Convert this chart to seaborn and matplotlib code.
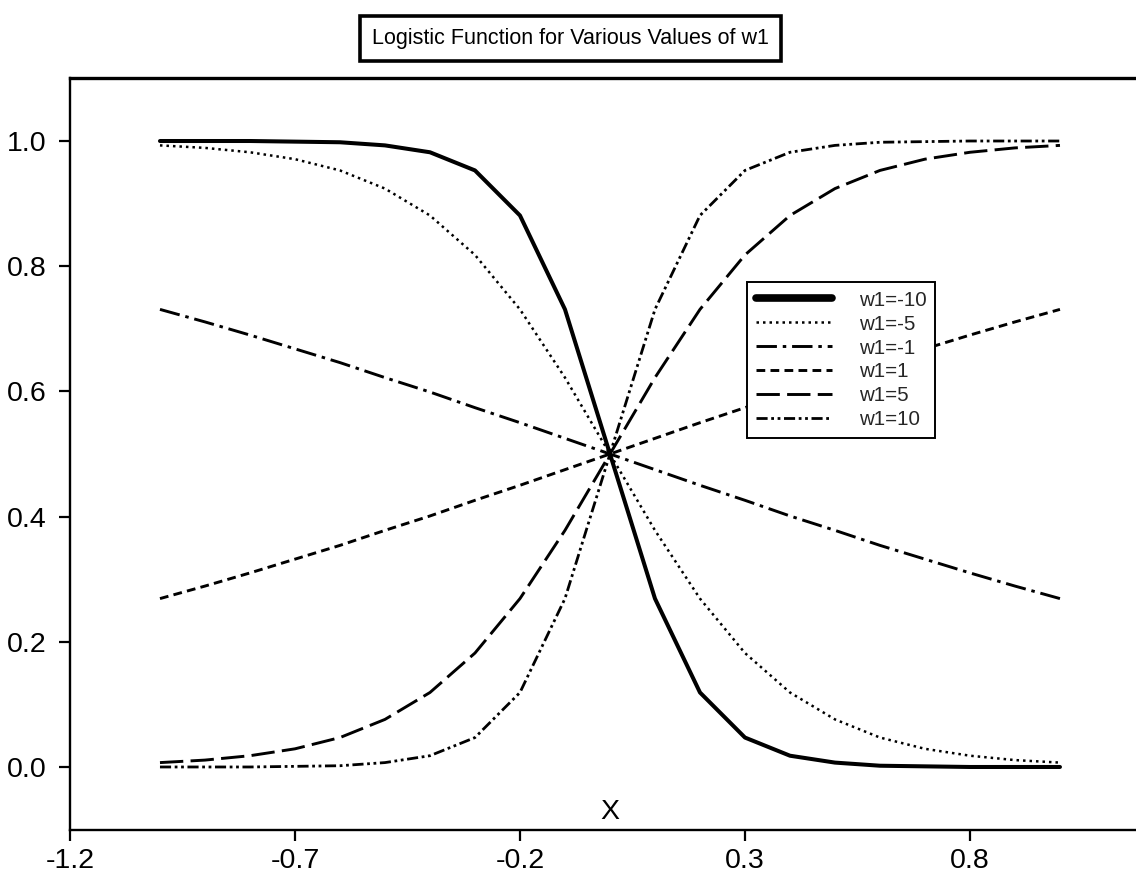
import matplotlib
matplotlib.use("Agg")
import matplotlib.pyplot as plt
import seaborn as sns
import pandas as pd

# ---- data ----
x_vals = [-1.0, -0.9, -0.8, -0.7, -0.6, -0.5, -0.4, -0.3, -0.2, -0.1, 0.0,
          0.1, 0.2, 0.3, 0.4, 0.5, 0.6, 0.7, 0.8, 0.9, 1.0]

y_w1_m10 = [1.000, 1.000, 1.000, 0.999, 0.998, 0.993, 0.982, 0.953, 0.881, 0.731, 0.500,
            0.269, 0.119, 0.047, 0.018, 0.007, 0.002, 0.001, 0.000, 0.000, 0.000]
y_w1_m5 = [0.993, 0.989, 0.982, 0.971, 0.953, 0.924, 0.881, 0.818, 0.731, 0.622, 0.500,
           0.378, 0.269, 0.182, 0.119, 0.076, 0.047, 0.029, 0.018, 0.011, 0.007]
y_w1_m1 = [0.731, 0.711, 0.690, 0.668, 0.646, 0.622, 0.599, 0.574, 0.550, 0.525, 0.500,
           0.475, 0.450, 0.426, 0.401, 0.378, 0.354, 0.332, 0.310, 0.289, 0.269]
y_w1_p1 = [0.269, 0.289, 0.310, 0.332, 0.354, 0.378, 0.401, 0.426, 0.450, 0.475, 0.500,
           0.525, 0.550, 0.574, 0.599, 0.622, 0.646, 0.668, 0.690, 0.711, 0.731]
y_w1_p5 = [0.007, 0.011, 0.018, 0.029, 0.047, 0.076, 0.119, 0.182, 0.269, 0.378, 0.500,
           0.622, 0.731, 0.818, 0.881, 0.924, 0.953, 0.971, 0.982, 0.989, 0.993]
y_w1_p10 = [0.000, 0.000, 0.000, 0.001, 0.002, 0.007, 0.018, 0.047, 0.119, 0.269, 0.500,
            0.731, 0.881, 0.953, 0.982, 0.993, 0.998, 0.999, 1.000, 1.000, 1.000]

series_labels = ["w1=-10", "w1=-5", "w1=-1", "w1=1", "w1=5", "w1=10"]
series_values = [y_w1_m10, y_w1_m5, y_w1_m1, y_w1_p1, y_w1_p5, y_w1_p10]

x_ticks = [-1.2, -0.7, -0.2, 0.3, 0.8]
y_ticks = [0.0, 0.2, 0.4, 0.6, 0.8, 1.0]

# ---- style ----
sns.set_style("white")
plt.rcParams["font.family"] = ["Liberation Sans", "DejaVu Sans"]

styles = [
    dict(linestyle="-", linewidth=2.9),
    dict(linestyle=(0, (1, 1.6)), linewidth=1.8),
    dict(linestyle=(0, (7, 2, 1.2, 2)), linewidth=2.1),
    dict(linestyle=(0, (3, 1.8)), linewidth=2.1),
    dict(linestyle=(0, (8, 2.5)), linewidth=2.1),
    dict(linestyle=(0, (4, 1.3, 1, 1.3, 1, 1.3)), linewidth=2.0),
]

fig = plt.figure(figsize=(11.36, 8.80), dpi=100)
ax = fig.add_axes([0.0616, 0.0573, 0.9507, 0.8536])

df = pd.DataFrame({"x": x_vals})
for lab, vals, st in zip(series_labels, series_values, styles):
    df[lab] = vals
    sns.lineplot(data=df, x="x", y=lab, ax=ax, color="black", label=lab,
                 **st)

ax.set_xlim(-1.2, 1.2)
ax.set_ylim(-0.1, 1.1)
ax.set_xticks(x_ticks)
ax.set_yticks(y_ticks)
ax.set_xticklabels([f"{t:.1f}" for t in x_ticks])
ax.set_yticklabels([f"{t:.1f}" for t in y_ticks])
ax.tick_params(axis="both", direction="out", length=8, width=1.6,
               labelsize=20.5, color="black", labelcolor="black")
ax.tick_params(axis="y", pad=9)
ax.tick_params(axis="x", pad=5)
ax.tick_params(bottom=True, left=True)

for side in ["left", "bottom"]:
    ax.spines[side].set_linewidth(1.7)
    ax.spines[side].set_color("black")
ax.spines["top"].set_linewidth(2.4)
ax.spines["top"].set_color("black")
ax.spines["right"].set_visible(False)

ax.set_ylabel("")
ax.set_xlabel("X", fontsize=20.5, color="black")
ax.xaxis.set_label_coords(1.2 / 2.4, 0.006)
ax.xaxis.label.set_verticalalignment("bottom")

fig.text(0.502, 0.956, "Logistic Function for Various Values of w1",
         ha="center", va="center", fontsize=15.5, color="black",
         bbox=dict(boxstyle="square,pad=0.55", facecolor="white",
                   edgecolor="black", linewidth=2.6))

leg = ax.legend(loc="upper left", bbox_to_anchor=(0.658, 0.6795),
                bbox_transform=fig.transFigure, frameon=True, fancybox=False,
                shadow=False, fontsize=14.8, handlelength=3.7,
                handletextpad=1.3, labelspacing=0.24, borderpad=0.42,
                borderaxespad=0)
leg.get_frame().set_edgecolor("black")
leg.get_frame().set_linewidth(1.4)
leg.get_frame().set_alpha(1)
leg_lines = leg.get_lines()
if leg_lines:
    leg_lines[0].set_linewidth(5.5)

fig.savefig("out.png", dpi=100)
